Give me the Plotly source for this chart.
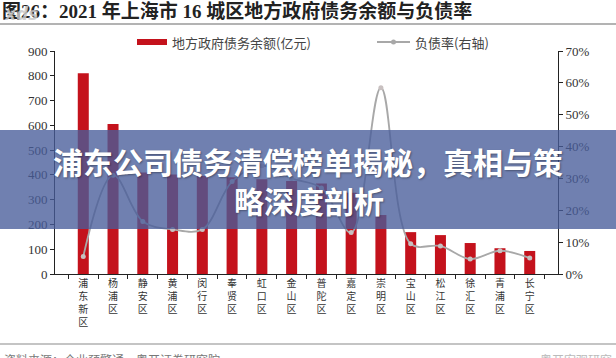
import plotly.graph_objects as go

districts = ["浦东新区", "杨浦区", "静安区", "黄浦区", "闵行区", "奉贤区", "虹口区", "金山区",
             "普陀区", "嘉定区", "崇明区", "宝山区", "松江区", "徐汇区", "青浦区", "长宁区"]
debt = [810, 605, 410, 402, 396, 390, 382, 375, 365, 328, 238, 169, 157, 125, 104, 93]
ratio = [0.055, 0.31, 0.165, 0.14, 0.14, 0.29, 0.34, 0.30, 0.27, 0.13, 0.585, 0.095, 0.088, 0.047, 0.073, 0.05]
left_ticks = [0, 100, 200, 300, 400, 500, 600, 700, 800, 900]
right_ticks = [0, 0.1, 0.2, 0.3, 0.4, 0.5, 0.6, 0.7]

title_text = "图26：2021 年上海市 16 城区地方政府债务余额与负债率"
legend_bar = "地方政府债务余额(亿元)"
legend_line = "负债率(右轴)"
banner_line1 = "浦东公司债务清偿榜单揭秘，真相与策"
banner_line2 = "略深度剖析"
footer_left = "资料来源：企业预警通，粤开证券研究院"
footer_right = "粤开宏观研究"

W, H = 616, 358
L, R, T, B = 55, 558, 51, 274


def px(x):
    return (x - L) / (R - L)


def py(y):
    return (B - y) / (B - T)


serif = "Liberation Serif, Noto Sans CJK SC, serif"
cjk = "Noto Sans CJK SC, sans-serif"

fig = go.Figure()
fig.add_trace(go.Bar(
    x=districts, y=debt, marker=dict(color="#c4121c", line=dict(width=0)),
    name=legend_bar, showlegend=False,
))
fig.add_trace(go.Scatter(
    x=districts, y=ratio, yaxis="y2", mode="lines+markers",
    line=dict(color="#a8a8a8", width=1.8, shape="spline", smoothing=1.0),
    marker=dict(size=5, color="#c8c0c0"),
    name=legend_line, showlegend=False,
))

tick_text = ["<br>".join(list(d)) for d in districts]

fig.update_layout(
    width=W, height=H,
    margin=dict(l=L, r=W - R, t=T, b=H - B, pad=0),
    paper_bgcolor="white", plot_bgcolor="white",
    bargap=0.63,
    xaxis=dict(
        type="category", tickmode="array", tickvals=districts, ticktext=tick_text,
        tickson="boundaries", ticks="outside", ticklen=4, tickcolor="#222",
        showline=True, linecolor="#222", linewidth=1, showgrid=False,
        tickfont=dict(family=cjk, size=10, color="#333"), tickangle=0,
    ),
    yaxis=dict(
        range=[0, 900], tickvals=left_ticks, ticks="outside", ticklen=4, tickcolor="#222",
        showline=True, linecolor="#222", linewidth=1, showgrid=False, zeroline=False,
        tickfont=dict(family=serif, size=13, color="#333"),
    ),
    yaxis2=dict(
        range=[0, 0.7], tickvals=right_ticks, tickformat=".0%", overlaying="y", side="right",
        ticks="outside", ticklen=4, tickcolor="#222",
        showline=True, linecolor="#222", linewidth=1, showgrid=False, zeroline=False,
        tickfont=dict(family=serif, size=13, color="#333"),
    ),
    showlegend=False,
)

shapes = []
annotations = []

# title separator and footer separator
shapes.append(dict(type="line", xref="paper", yref="paper", x0=px(0), x1=px(616), y0=py(24), y1=py(24),
                   line=dict(color="#9a9a9a", width=1.5), layer="above"))
shapes.append(dict(type="line", xref="paper", yref="paper", x0=px(0), x1=px(616), y0=py(344), y1=py(344),
                   line=dict(color="#b0b0b0", width=1.5), layer="above"))

# legend
shapes.append(dict(type="rect", xref="paper", yref="paper", x0=px(137), x1=px(167), y0=py(45), y1=py(39),
                   fillcolor="#c4121c", line=dict(width=0), layer="above"))
annotations.append(dict(text=legend_bar, xref="paper", yref="paper", x=px(170), y=py(42),
                        xanchor="left", yanchor="middle", showarrow=False,
                        font=dict(family=cjk, size=13, color="#444")))
shapes.append(dict(type="line", xref="paper", yref="paper", x0=px(377), x1=px(410), y0=py(42), y1=py(42),
                   line=dict(color="#a8a8a8", width=2), layer="above"))
shapes.append(dict(type="circle", xref="paper", yref="paper", x0=px(391), x1=px(396), y0=py(44.5), y1=py(39.5),
                   fillcolor="#a8a8a8", line=dict(width=0), layer="above"))
annotations.append(dict(text=legend_line, xref="paper", yref="paper", x=px(413), y=py(42),
                        xanchor="left", yanchor="middle", showarrow=False,
                        font=dict(family=cjk, size=13, color="#444")))

# title
annotations.append(dict(text="<b>" + title_text + "</b>", xref="paper", yref="paper", x=px(0), y=py(11),
                        xanchor="left", yanchor="middle", showarrow=False,
                        font=dict(family=serif, size=19, color="#222")))
annotations.append(dict(text="<b><i>xds</i></b>", xref="paper", yref="paper", x=px(2), y=py(14),
                        xanchor="left", yanchor="middle", showarrow=False,
                        font=dict(family="DejaVu Sans", size=17, color="rgba(200,200,200,0.85)")))

# footer
annotations.append(dict(text=footer_left, xref="paper", yref="paper", x=px(2), y=py(349),
                        xanchor="left", yanchor="top", showarrow=False,
                        font=dict(family=cjk, size=12, color="#777")))
annotations.append(dict(text=footer_right, xref="paper", yref="paper", x=px(614), y=py(349),
                        xanchor="right", yanchor="top", showarrow=False,
                        font=dict(family=cjk, size=12, color="#bbb")))

# banner overlay
shapes.append(dict(type="rect", xref="paper", yref="paper", x0=px(0), x1=px(616), y0=py(229), y1=py(130),
                   fillcolor="rgba(72,92,154,0.78)", line=dict(width=0), layer="above"))
annotations.append(dict(text="<b>" + banner_line1 + "</b>", xref="paper", yref="paper", x=px(308), y=py(161),
                        xanchor="center", yanchor="middle", showarrow=False,
                        font=dict(family=cjk, size=30, color="white", shadow="1px 1px 2px rgba(0,0,0,0.35)")))
annotations.append(dict(text="<b>" + banner_line2 + "</b>", xref="paper", yref="paper", x=px(309), y=py(200),
                        xanchor="center", yanchor="middle", showarrow=False,
                        font=dict(family=cjk, size=30, color="white", shadow="1px 1px 2px rgba(0,0,0,0.35)")))

fig.update_layout(shapes=shapes, annotations=annotations)
fig.write_html("out.html")
